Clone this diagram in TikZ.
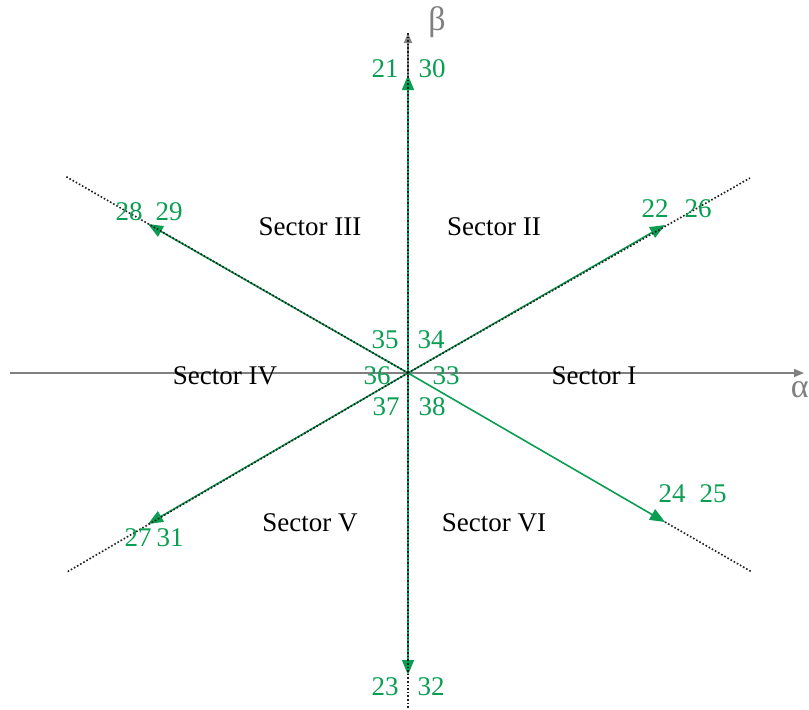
\documentclass[tikz,border=0pt]{standalone}
\usepackage{fontspec}
\setmainfont{Liberation Serif}
\usepackage{tikz}
\usetikzlibrary{arrows.meta,positioning}
\definecolor{Verde}{RGB}{10,158,82}
\definecolor{Eje}{RGB}{128,128,128}
\definecolor{Punteo}{RGB}{30,30,30}

\begin{document}
\begin{tikzpicture}[
  x=0.5pt,y=-0.5pt,
  font=\fontsize{13.5}{16}\selectfont,
  num/.style={text=Verde,inner sep=0pt},
  sector/.style={text=black,inner sep=0pt},
  eje/.style={Eje,thick,-{Triangle[length=5pt,width=4pt]}},
  vec/.style={Verde,thick,-{Triangle[length=7.5pt,width=6pt]}},
  punteo/.style={Punteo,thick,densely dotted}
]
  \useasboundingbox (0,0) rectangle (809,709);
  % Ejes alfa-beta.
  \coordinate (O) at (408,373);
  \coordinate (xizq) at (10,373);
  \coordinate (xder) at (804,373);
  \coordinate (yarr) at (408,33);
  \coordinate (yabj) at (408,709);
  \draw[eje] (xizq)--(xder);
  \draw[eje] (O)--(yarr);
  \node[Eje,font=\fontsize{17}{18}\selectfont,anchor=east,inner sep=0pt] (alfa) at (809,390) {α};
  \node[Eje,font=\fontsize{17}{18}\selectfont] (beta) at (437,22) {β};

  % Vectores de tension.
  \coordinate (v30) at (408,75);
  \coordinate (v60) at (665,225);
  \coordinate (v120) at (148,224);
  \coordinate (v240) at (148,524);
  \coordinate (v270) at (408,675);
  \coordinate (v300) at (665,522);
  \foreach \v in {v30,v60,v120,v240,v270,v300}
    \draw[vec] (O)--(\v);

  % Rectas punteadas de los sectores.
  \coordinate (e60) at (750,178);
  \coordinate (e120) at (65,176);
  \coordinate (e240) at (67,572);
  \coordinate (e300) at (752,572);
  \draw[punteo] (yarr)--(yabj);
  \draw[punteo] (O)--(e60);
  \draw[punteo] (O)--(e120);
  \draw[punteo] (O)--(e240);
  \draw[punteo] (v300)--(e300);

  % Numeros de los vectores.
  \node[num] (n21) at (385,69) {21};
  \node[num] (n30) at (432,69) {30};
  \node[num] (n22) at (655,209) {22};
  \node[num] (n26) at (698,209) {26};
  \node[num] (n28) at (129,212) {28};
  \node[num] (n29) at (169,212) {29};
  \node[num] (n24) at (672,494) {24};
  \node[num] (n25) at (713,494) {25};
  \node[num] (n27) at (138,538) {27};
  \node[num] (n31) at (170,538) {31};
  \node[num] (n23) at (385,687) {23};
  \node[num] (n32) at (431,687) {32};
  \node[num] (n35) at (385,340) {35};
  \node[num] (n34) at (431,340) {34};
  \node[num] (n36) at (377,376) {36};
  \node[num] (n33) at (446,376) {33};
  \node[num] (n37) at (386,407) {37};
  \node[num] (n38) at (432,407) {38};

  % Sectores.
  \node[sector] (s3) at (310,227) {Sector III};
  \node[sector] (s2) at (494,227) {Sector II};
  \node[sector] (s4) at (225,376) {Sector IV};
  \node[sector] (s1) at (594,376) {Sector I};
  \node[sector] (s5) at (310,523) {Sector V};
  \node[sector] (s6) at (494,523) {Sector VI};
\end{tikzpicture}
\end{document}
